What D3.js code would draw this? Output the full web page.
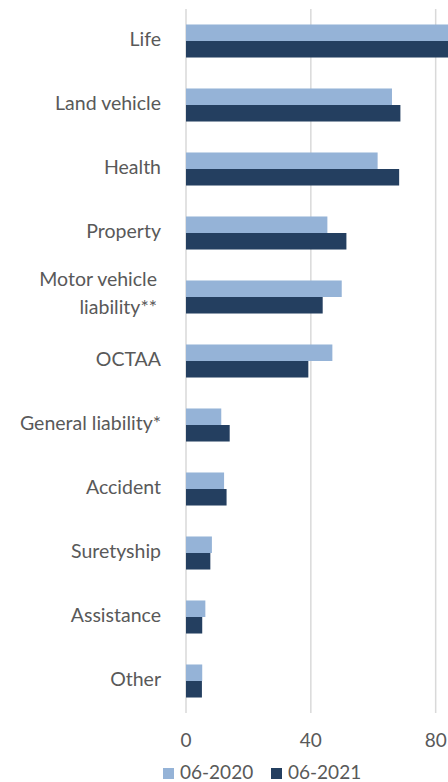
<!DOCTYPE html>
<html>
<head>
<meta charset="utf-8">
<script src="https://cdn.jsdelivr.net/npm/d3@7"></script>
<style>
  html, body { margin: 0; padding: 0; background: #fff; }
  svg { display: block; font-family: Lato, "Open Sans", sans-serif; }
</style>
</head>
<body>
<svg id="chart" width="448" height="782"></svg>
<script>
// Premiums by line of business, two periods
const categories = ["Life", "Land vehicle", "Health", "Property", "Motor vehicle liability**",
  "OCTAA", "General liability*", "Accident", "Suretyship", "Assistance", "Other"];
const categoryLines = [["Life"], ["Land vehicle"], ["Health"], ["Property"], ["Motor vehicle", "liability**"],
  ["OCTAA"], ["General liability*"], ["Accident"], ["Suretyship"], ["Assistance"], ["Other"]];
const seriesNames = ["06-2020", "06-2021"];
const values2020 = [92, 66.0, 61.4, 45.3, 49.9, 46.9, 11.3, 12.2, 8.3, 6.2, 5.2];
const values2021 = [95, 68.7, 68.3, 51.4, 43.8, 39.2, 14.0, 13.0, 7.8, 5.2, 5.1];
const tickValues = [0, 40, 80, 120];
const colors = ["#95b3d7", "#243f60"];

const svg = d3.select("#chart");

const x = d3.scaleLinear().domain([0, 120]).range([186, 560.5]);
const y = d3.scaleBand().domain(categories).range([9, 713]).paddingInner(0.484).paddingOuter(0.242);
const ySub = d3.scaleBand().domain(seriesNames).range([0, y.bandwidth()]);

// vertical gridlines
svg.append("g").selectAll("line").data(tickValues).join("line")
  .attr("x1", d => x(d)).attr("x2", d => x(d))
  .attr("y1", 9).attr("y2", 713)
  .attr("stroke", "#d9d9d9").attr("stroke-width", 1.5);

// bars
const rows = categories.map((c, i) => ({ c, vals: [values2020[i], values2021[i]] }));
const groups = svg.append("g").selectAll("g").data(rows).join("g")
  .attr("transform", d => `translate(0,${y(d.c)})`);
groups.selectAll("rect").data(d => d.vals.map((v, k) => ({ v, k }))).join("rect")
  .attr("x", x(0))
  .attr("y", d => ySub(seriesNames[d.k]))
  .attr("width", d => x(d.v) - x(0))
  .attr("height", ySub.bandwidth())
  .attr("fill", d => colors[d.k]);

// category labels
const labelG = svg.append("g").attr("fill", "#595959").attr("font-size", 19.5).attr("text-anchor", "end");
categories.forEach((c, i) => {
  const cy = y(c) + y.bandwidth() / 2;
  const lines = categoryLines[i];
  const t = labelG.append("text").attr("x", 161);
  if (lines.length === 1) {
    t.attr("y", cy + 5).text(lines[0]);
  } else {
    t.append("tspan").attr("x", 157).attr("y", cy - 11).text(lines[0]);
    t.append("tspan").attr("x", 157).attr("y", cy + 17).text(lines[1]);
  }
});

// x tick labels
svg.append("g").attr("fill", "#595959").attr("font-size", 19).attr("text-anchor", "middle")
  .selectAll("text").data(tickValues).join("text")
  .attr("x", d => x(d)).attr("y", 747).text(d => d);

// legend
const legend = svg.append("g").attr("font-size", 19).attr("fill", "#595959");
const legendX = [163, 271];
seriesNames.forEach((s, k) => {
  legend.append("rect").attr("x", legendX[k]).attr("y", 768).attr("width", 11).attr("height", 11).attr("fill", colors[k]);
  legend.append("text").attr("x", legendX[k] + 17).attr("y", 779).text(s);
});
</script>
</body>
</html>
